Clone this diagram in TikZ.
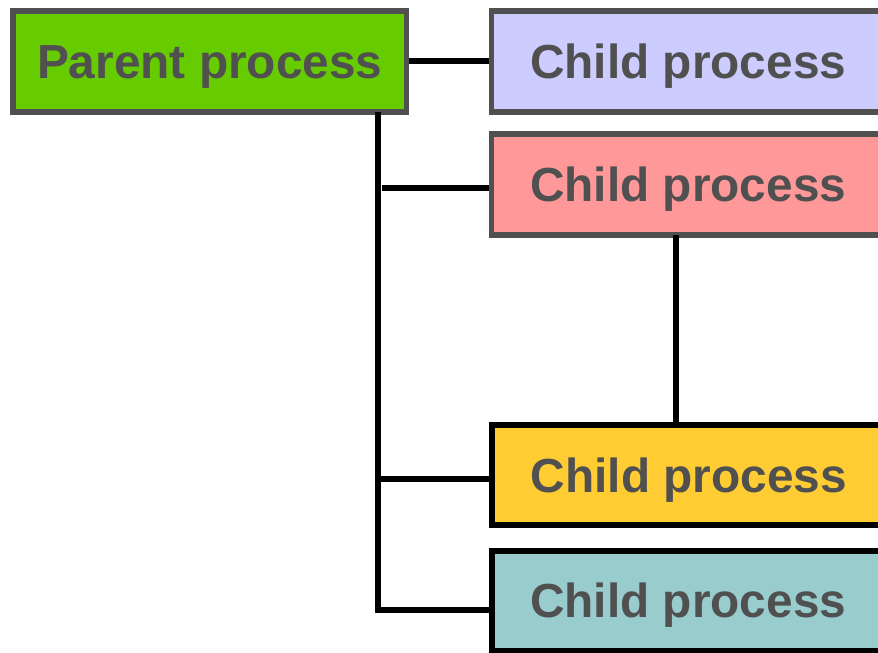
\documentclass[tikz,border=0pt]{standalone}
\usepackage{fontspec}
\setmainfont{Liberation Sans}
\definecolor{bordergray}{HTML}{505050}
\definecolor{textgray}{HTML}{505050}
\definecolor{pgreen}{HTML}{66CC00}
\definecolor{plav}{HTML}{CCCCFF}
\definecolor{ppink}{HTML}{FF9999}
\definecolor{pyellow}{HTML}{FFCC33}
\definecolor{pteal}{HTML}{99CCCC}
\begin{document}
\begin{tikzpicture}[x=1pt,y=-1pt,
  procbox/.style={draw=bordergray,line width=5.5pt,minimum width=393.5pt,minimum height=101pt,
    inner sep=0pt,text=textgray,font=\fontsize{47.8}{50}\selectfont\bfseries,
    text height=34pt,text depth=0pt},
  darkbox/.style={procbox,draw=black,line width=6pt,minimum height=100pt},
  conn/.style={draw=black,line width=5.5pt}]
\useasboundingbox (0,0) rectangle (878,653);
\clip (0,0) rectangle (878,653);
\node[procbox,fill=pgreen] (parent) at (209.75,61.5) {Parent process};
\node[procbox,fill=plav] (c1) at (688.25,61.5) {Child process};
\node[procbox,fill=ppink] (c2) at (688.25,184.5) {Child process};
\node[darkbox,fill=pyellow] (c3) at (689,475) {Child process};
\node[darkbox,fill=pteal] (c4) at (688.25,600.5) {Child process};
\coordinate (top) at (378,112);
\coordinate (bot) at (378,612.5);
\coordinate (b2) at (382,188);
\coordinate (b3) at (378,479);
\coordinate (b4) at (378,610);
\coordinate (v) at (676,235);
\draw[conn] (parent.east |- 0,61) -- (c1.west |- 0,61);
\draw[conn] (top) -- (bot);
\draw[conn] (b2) -- (b2 -| c2.west);
\draw[conn] (b3) -- (b3 -| c3.west);
\draw[conn] (b4) -- (b4 -| c4.west);
\draw[conn] (v) -- (v |- c3.north);
\end{tikzpicture}
\end{document}
